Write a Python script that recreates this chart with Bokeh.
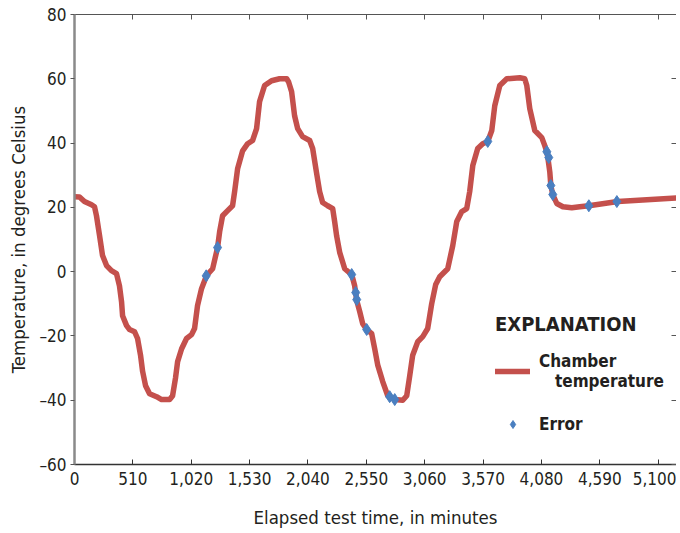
from bokeh.plotting import figure
from bokeh.models import (Range1d, FixedTicker, NumeralTickFormatter, LinearAxis,
                          Legend, LegendItem)
from bokeh.embed import file_html
from bokeh.resources import INLINE

# Chamber temperature curve (elapsed minutes, degrees Celsius)
time_min = [0, 44, 87, 149, 175, 192, 219, 245, 280, 323, 367, 393, 411, 420, 455, 481,
            525, 551, 577, 595, 621, 656, 717, 761, 831, 857, 883, 901, 936, 979, 1023,
            1049, 1075, 1110, 1154, 1207, 1250, 1268, 1294, 1338, 1381, 1399, 1425, 1469,
            1513, 1556, 1591, 1617, 1661, 1722, 1792, 1854, 1871, 1897, 1923, 1950, 1993,
            2055, 2081, 2116, 2142, 2168, 2212, 2256, 2273, 2291, 2317, 2361, 2422, 2448,
            2466, 2492, 2518, 2553, 2597, 2623, 2649, 2693, 2737, 2798, 2868, 2903, 2929,
            2955, 2999, 3043, 3086, 3121, 3156, 3191, 3261, 3305, 3340, 3384, 3427, 3453,
            3480, 3523, 3567, 3611, 3646, 3672, 3716, 3777, 3891, 3934, 3952, 3978, 4022,
            4083, 4109, 4127, 4136, 4153, 4162, 4179, 4214, 4267, 4345, 4415, 4494, 4747,
            5001, 5290]
temp_c = [23.3, 23.2, 21.8, 20.8, 20.2, 17.4, 11.2, 5.0, 1.9, 0.3, -0.6, -4.4, -9.3,
          -13.7, -16.8, -18.0, -18.7, -20.8, -26.0, -31.0, -35.5, -38.0, -38.9, -39.8,
          -39.8, -38.6, -33.0, -28.0, -24.0, -20.8, -19.6, -17.7, -10.6, -5.3, -1.2, 0.9,
          7.5, 12.4, 17.4, 19.0, 20.5, 24.9, 32.0, 37.6, 39.8, 40.8, 44.5, 52.9, 57.9,
          59.4, 60.0, 60.0, 59.0, 56.0, 48.5, 44.5, 42.0, 40.8, 38.3, 30.5, 24.9, 21.5,
          20.5, 19.6, 15.6, 11.0, 6.0, 0.9, -0.9, -4.4, -9.0, -12.4, -16.2, -18.0, -19.3,
          -24.0, -29.0, -34.2, -38.6, -39.8, -40.0, -38.6, -32.4, -26.0, -21.8, -20.2,
          -17.7, -10.0, -4.0, -1.6, 0.9, 8.1, 15.6, 18.7, 19.6, 24.9, 33.0, 38.3, 39.8,
          40.5, 43.9, 51.6, 57.9, 60.0, 60.3, 60.0, 57.9, 50.7, 43.9, 41.7, 39.2, 37.3,
          35.5, 31.0, 26.8, 24.0, 21.2, 20.2, 19.9, 20.2, 20.5, 21.8, 22.4, 23.0]

# Error points
err_time = [1151, 1250, 2422, 2457, 2466, 2553, 2754, 2798, 3611, 4127, 4144, 4162, 4179,
            4494, 4739]
err_temp = [-1.3, 7.5, -0.9, -6.5, -8.7, -18.0, -38.9, -39.8, 40.5, 37.3, 35.5, 26.8,
            24.0, 20.5, 21.8]

x_ticks = [0, 510, 1020, 1530, 2040, 2550, 3060, 3570, 4080, 4590, 5100]
y_ticks = [-60, -40, -20, 0, 20, 40, 60, 80]
y_tick_labels = {v: (str(v).replace("-", "\u2013")) for v in y_ticks}

FONT = "'Liberation Sans Narrow', 'DejaVu Sans Condensed', 'Arial Narrow', sans-serif"
TXT = "#231f20"
RED = "#c4504c"
BLUE = "#4a7fc0"

p = figure(width=676, height=531, output_backend="svg", toolbar_location=None,
           x_range=Range1d(0, 5260), y_range=Range1d(-60, 80),
           min_border_left=74, min_border_right=0, min_border_top=14,
           min_border_bottom=67, outline_line_color=None)
p.xgrid.visible = False
p.ygrid.visible = False
p.background_fill_color = "white"

line_r = p.line(time_min, temp_c, line_color=RED, line_width=5.5, line_join="round",
                line_cap="round")
err_r = p.scatter(err_time, err_temp, marker="diamond", size=12, fill_color=BLUE,
                  line_color=BLUE)

xa = p.xaxis[0]
xa.ticker = FixedTicker(ticks=x_ticks)
xa.formatter = NumeralTickFormatter(format="0,0")
xa.axis_label = "Elapsed test time, in minutes"
xa.major_tick_in = 5
xa.major_tick_out = 0
xa.minor_tick_line_color = None
xa.axis_line_color = "#333333"
xa.axis_line_width = 1.5
xa.major_tick_line_color = "#333333"
xa.major_label_standoff = 7
xa.axis_label_standoff = 19
xa.major_label_text_line_height = 1.0
xa.axis_label_text_line_height = 1.0

ya = p.yaxis[0]
ya.ticker = FixedTicker(ticks=y_ticks)
ya.major_label_overrides = y_tick_labels
ya.axis_label = "Temperature, in degrees Celsius"
ya.major_tick_in = 0
ya.major_tick_out = 4
ya.minor_tick_line_color = None
ya.axis_line_color = "#8a8a8a"
ya.axis_line_width = 2.5
ya.major_tick_line_color = "#555555"
ya.major_label_standoff = 4
ya.axis_label_standoff = 7

for ax in (xa, ya):
    ax.major_label_text_font = FONT
    ax.major_label_text_font_size = "17px"
    ax.major_label_text_color = TXT
    ax.axis_label_text_font = FONT
    ax.axis_label_text_font_size = "18.5px"
    ax.axis_label_text_font_style = "normal"
    ax.axis_label_text_color = TXT

top = LinearAxis(ticker=FixedTicker(ticks=x_ticks), major_tick_in=5, major_tick_out=0,
                 minor_tick_line_color=None, major_label_text_font_size="1px",
                 major_label_text_color=None, major_label_standoff=0,
                 axis_line_color="#555555", major_tick_line_color="#555555")
right = LinearAxis(ticker=FixedTicker(ticks=y_ticks), major_tick_in=5, major_tick_out=0,
                   minor_tick_line_color=None, major_label_text_font_size="1px",
                   major_label_text_color=None, major_label_standoff=0,
                   axis_line_color="#555555", major_tick_line_color="#555555")
p.add_layout(top, "above")
p.add_layout(right, "right")

legend = Legend(items=[LegendItem(label="Chamber\n   temperature", renderers=[line_r]),
                       LegendItem(label="Error", renderers=[err_r])],
                location=(421, 30), title="EXPLANATION",
                title_text_font=FONT, title_text_font_size="20px",
                title_text_font_style="bold", title_text_color=TXT,
                label_text_font=FONT, label_text_font_size="17px",
                label_text_font_style="bold", label_text_color=TXT,
                glyph_width=35, glyph_height=20, label_standoff=9,
                spacing=23, padding=0, margin=0, title_standoff=15,
                border_line_color=None, background_fill_alpha=0)
p.add_layout(legend, "center")

open("out.html", "w").write(file_html(p, INLINE))
